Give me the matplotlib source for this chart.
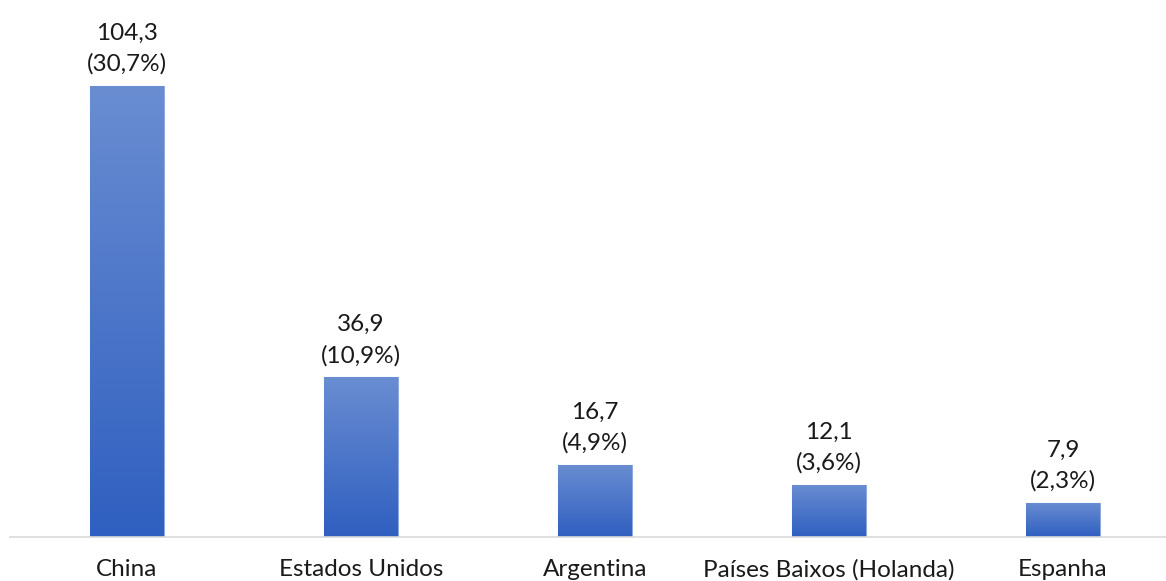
import matplotlib
matplotlib.use("Agg")
import matplotlib.pyplot as plt
import numpy as np
from matplotlib.colors import LinearSegmentedColormap

categories = ["China", "Estados Unidos", "Argentina", "Países Baixos (Holanda)", "Espanha"]
values = [104.3, 36.9, 16.7, 12.1, 7.9]
shares = [30.7, 10.9, 4.9, 3.6, 2.3]

def br(v, d=1):
    return f"{v:.{d}f}".replace(".", ",")

plt.rcParams['font.family'] = ['Lato', 'DejaVu Sans']

fig = plt.figure(figsize=(11.66, 5.81), dpi=100)
ax = fig.add_axes([10/1166, 44/581, 1156/1166, 537/581])
ax.set_xlim(-0.5, (1166-127)/234)
ax.set_ylim(0, 537/4.324)

cmap = LinearSegmentedColormap.from_list("g", ["#2f5fc0", "#6a8dd2"])
grad = np.linspace(0, 1, 256).reshape(-1, 1)
x = np.arange(len(categories))
w = 0.316
bars = ax.bar(x, values, width=w, color="#4472c4", edgecolor="#8faadc", linewidth=0.8, zorder=2)
for b in bars:
    x0, y0 = b.get_x(), b.get_y()
    im = ax.imshow(grad, aspect="auto", cmap=cmap, origin="lower",
                   extent=[x0, x0 + b.get_width(), y0, y0 + b.get_height()], zorder=2.5)
    im.set_clip_path(b)

for xi, v, s in zip(x, values, shares):
    ax.annotate(f"{br(v)}\n({br(s)}%)", (xi, v), xytext=(0, 8), textcoords="offset points",
                ha="center", va="bottom", fontsize=17.5, color="#1a1a1a", linespacing=1.55)

ax.set_xticks(x)
ax.set_xticklabels(categories, fontsize=17.5, color="#1a1a1a")
ax.tick_params(axis="x", length=0, pad=16)
ax.set_yticks([])
for sp in ["top", "right", "left"]:
    ax.spines[sp].set_visible(False)
ax.spines["bottom"].set_color("#d9d9d9")
ax.spines["bottom"].set_linewidth(1.2)
ax.set_xlim(-0.5, (1166-127)/234)

fig.savefig("out.png", dpi=100)
